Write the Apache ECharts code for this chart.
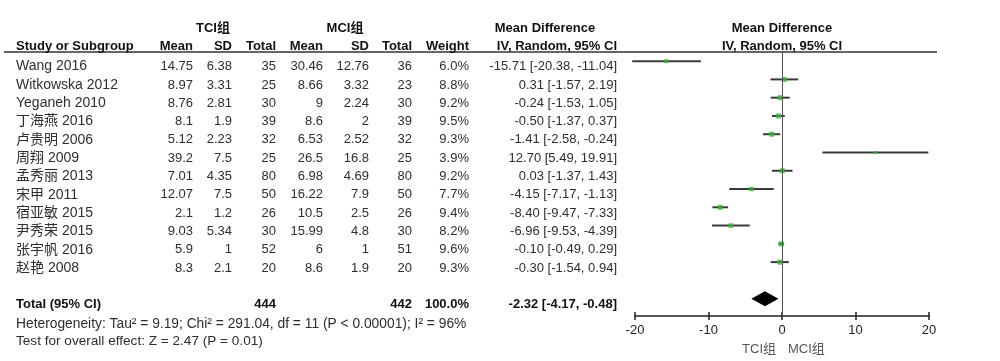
<!DOCTYPE html>
<html><head><meta charset="utf-8">
<script src="https://cdn.jsdelivr.net/npm/echarts@6/dist/echarts.min.js"></script>
<style>html,body{margin:0;padding:0;background:#fff}#c{width:1000px;height:361px}</style>
</head><body><div id="c"></div>
<script>
// ---- data ----
const studies = ['Wang 2016','Witkowska 2012','Yeganeh 2010','丁海燕 2016','卢贵明 2006','周翔 2009','孟秀丽 2013','宋甲 2011','宿亚敏 2015','尹秀荣 2015','张宇帆 2016','赵艳 2008'];
const tciMean = [14.75,8.97,8.76,8.1,5.12,39.2,7.01,12.07,2.1,9.03,5.9,8.3];
const tciSD = [6.38,3.31,2.81,1.9,2.23,7.5,4.35,7.5,1.2,5.34,1,2.1];
const tciTotal = [35,25,30,39,32,25,80,50,26,30,52,20];
const mciMean = [30.46,8.66,9,8.6,6.53,26.5,6.98,16.22,10.5,15.99,6,8.6];
const mciSD = [12.76,3.32,2.24,2,2.52,16.8,4.69,7.9,2.5,4.8,1,1.9];
const mciTotal = [36,23,30,39,32,25,80,50,26,30,51,20];
const weight = [6.0,8.8,9.2,9.5,9.3,3.9,9.2,7.7,9.4,8.2,9.6,9.3];
const md = [-15.71,0.31,-0.24,-0.50,-1.41,12.70,0.03,-4.15,-8.40,-6.96,-0.10,-0.30];
const ciLow = [-20.38,-1.57,-1.53,-1.37,-2.58,5.49,-1.37,-7.17,-9.47,-9.53,-0.49,-1.54];
const ciHigh = [-11.04,2.19,1.05,0.37,-0.24,19.91,1.43,-1.13,-7.33,-4.39,0.29,0.94];
const totalN = [444, 442];
const totalWeight = 100.0;
const pooled = [-2.32, -4.17, -0.48]; // estimate, low, high
const heterogeneityText = 'Heterogeneity: Tau² = 9.19; Chi² = 291.04, df = 11 (P < 0.00001); I² = 96%';
const overallText = 'Test for overall effect: Z = 2.47 (P = 0.01)';
const groupLabels = ['TCI组', 'MCI组'];
const xTicks = {min: -20, max: 20, interval: 10};

// ---- layout ----
const F = '"Liberation Sans", Arial, "Noto Sans CJK SC", sans-serif';
const COL = {name:16, tMean:193, tSD:232, tTot:276, mMean:323, mSD:369, mTot:412, w:469, ci:617};
const TOTAL_ROW = 13;
const H1 = -2.10, H2 = -1.11;
const cells = [];
function add(x,row,t,a,b,c,s){cells.push({x:x,row:row,t:t,a:a||'right',b:!!b,c:c,s:s||13});}
add(213,H1,groupLabels[0],'center',true);
add(345,H1,groupLabels[1],'center',true);
add(545,H1,'Mean Difference','center',true);
add(782,H1,'Mean Difference','center',true);
add(COL.name,H2,'Study or Subgroup','left',true);
add(COL.tMean,H2,'Mean','right',true);
add(COL.tSD,H2,'SD','right',true);
add(COL.tTot,H2,'Total','right',true);
add(COL.mMean,H2,'Mean','right',true);
add(COL.mSD,H2,'SD','right',true);
add(COL.mTot,H2,'Total','right',true);
add(COL.w,H2,'Weight','right',true);
add(COL.ci,H2,'IV, Random, 95% CI','right',true);
add(782,H2,'IV, Random, 95% CI','center',true);
const f2 = v => v.toFixed(2);
studies.forEach((s,i)=>{
  add(COL.name,i,s,'left',false,null,14);
  add(COL.tMean,i,String(tciMean[i]));
  add(COL.tSD,i,String(tciSD[i]));
  add(COL.tTot,i,String(tciTotal[i]));
  add(COL.mMean,i,String(mciMean[i]));
  add(COL.mSD,i,String(mciSD[i]));
  add(COL.mTot,i,String(mciTotal[i]));
  add(COL.w,i,weight[i].toFixed(1)+'%');
  add(COL.ci,i,f2(md[i])+' ['+f2(ciLow[i])+', '+f2(ciHigh[i])+']');
});
add(COL.name,TOTAL_ROW,'Total (95% CI)','left',true);
add(COL.tTot,TOTAL_ROW,String(totalN[0]),'right',true);
add(COL.mTot,TOTAL_ROW,String(totalN[1]),'right',true);
add(COL.w,TOTAL_ROW,totalWeight.toFixed(1)+'%','right',true);
add(COL.ci,TOTAL_ROW,f2(pooled[0])+' ['+f2(pooled[1])+', '+f2(pooled[2])+']','right',true);
add(COL.name,14.03,heterogeneityText,'left',false,null,13.8);
add(COL.name,15.01,overallText,'left',false,null,13.6);
add(776,15.45,groupLabels[0],'right',false,'#555');
add(788,15.45,groupLabels[1],'left',false,'#555');

const chart = echarts.init(document.getElementById('c'), null, {renderer:'canvas'});
const plotGrid = {left:635, top:52, width:294, height:264};
chart.setOption({
  backgroundColor:'#fff',
  animation:false,
  grid:[
    plotGrid,
    {left:0, top:0, width:1000, height:361},
    Object.assign({}, plotGrid)
  ],
  xAxis:[
    {gridIndex:0, type:'value', min:xTicks.min, max:xTicks.max, interval:xTicks.interval, position:'bottom',
      axisLine:{show:true, onZero:false, lineStyle:{color:'#222', width:1.5}},
      axisTick:{show:true, length:4, lineStyle:{color:'#222', width:1.5}},
      axisLabel:{color:'#222', fontSize:13, fontFamily:F, margin:8},
      splitLine:{show:false}},
    {gridIndex:1, type:'value', min:0, max:1000, show:false},
    {gridIndex:2, type:'value', min:xTicks.min, max:xTicks.max, interval:xTicks.interval, position:'bottom',
      axisLine:{show:false, onZero:false},
      axisTick:{show:true, inside:true, length:4, lineStyle:{color:'#222', width:1.5}},
      axisLabel:{show:false}, splitLine:{show:false}}
  ],
  yAxis:[
    {gridIndex:0, type:'value', inverse:true, min:-0.5, max:13.95, show:false},
    {gridIndex:1, type:'value', inverse:true, min:-3.633, max:16.061, show:false},
    {gridIndex:2, type:'value', inverse:true, min:-0.5, max:13.95, show:false}
  ],
  series:[
    {type:'custom', xAxisIndex:1, yAxisIndex:1, silent:true, clip:false,
      data:[[4, 937, -0.797]],
      renderItem:(p,api)=>{
        const a=api.coord([api.value(0),api.value(2)]), b=api.coord([api.value(1),api.value(2)]);
        return {type:'line', shape:{x1:a[0],y1:a[1],x2:b[0],y2:b[1]}, style:{stroke:'#333', lineWidth:1.5}};
      }},
    {type:'custom', xAxisIndex:1, yAxisIndex:1, silent:true, clip:false,
      data:cells.map((c,i)=>[c.x,c.row,i]),
      renderItem:(p,api)=>{
        const c=cells[api.value(2)];
        const pt=api.coord([api.value(0),api.value(1)]);
        return {type:'text', x:pt[0], y:pt[1], style:{text:c.t, align:c.a, verticalAlign:'middle',
          font:(c.b?'bold ':'')+c.s+'px '+F, fill:c.c||(c.b?'#111':'#2e2e2e')}};
      }},
    {type:'custom', xAxisIndex:0, yAxisIndex:0, silent:true, clip:false,
      data:studies.map((s,i)=>[ciLow[i],ciHigh[i],i]),
      encode:{x:[0,1], y:2},
      renderItem:(p,api)=>{
        const a=api.coord([api.value(0),api.value(2)]), b=api.coord([api.value(1),api.value(2)]);
        return {type:'line', shape:{x1:a[0],y1:a[1],x2:b[0],y2:b[1]}, style:{stroke:'#3a3a3a', lineWidth:2}};
      },
      markLine:{silent:true, symbol:'none', label:{show:false}, lineStyle:{color:'#555', width:1, type:'solid'},
        data:[{xAxis:0}]}},
    {type:'scatter', xAxisIndex:0, yAxisIndex:0, silent:true, symbol:'rect',
      data:studies.map((s,i)=>[md[i],i,weight[i]]),
      symbolSize:d=>1.8+d[2]*0.35,
      itemStyle:{color:'#3cb43c'}},
    {type:'custom', xAxisIndex:0, yAxisIndex:0, silent:true, clip:false,
      data:[[pooled[1],pooled[0],pooled[2],TOTAL_ROW]],
      encode:{x:[0,1,2], y:3},
      renderItem:(p,api)=>{
        const l=api.coord([api.value(0),api.value(3)]), m=api.coord([api.value(1),api.value(3)]), r=api.coord([api.value(2),api.value(3)]);
        const h=7.5;
        return {type:'polygon', shape:{points:[[l[0],l[1]],[m[0],m[1]-h],[r[0],r[1]],[m[0],m[1]+h]]}, style:{fill:'#000'}};
      }}
  ]
});
</script></body></html>
